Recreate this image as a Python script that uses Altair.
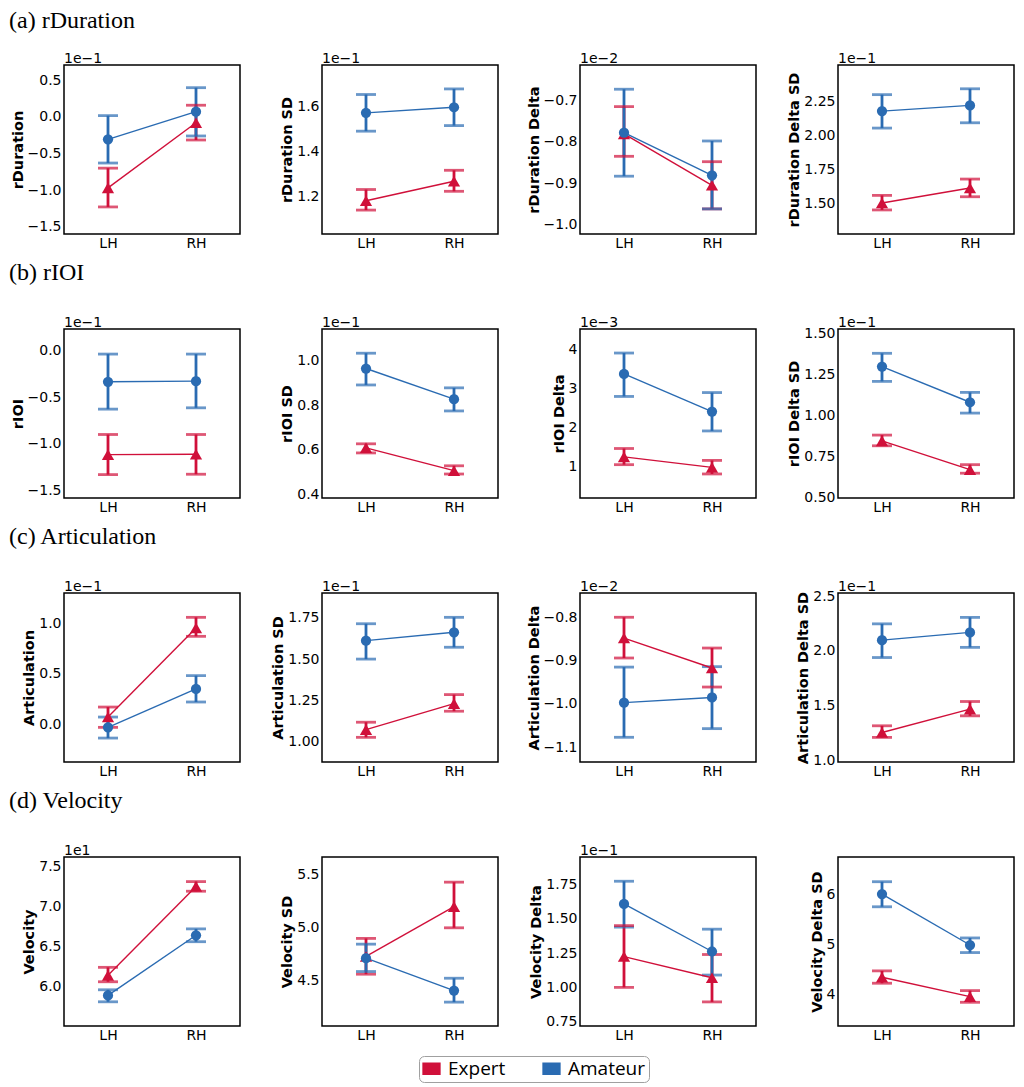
import altair as alt
import pandas as pd

HANDS = ["LH", "RH"]
GROUPS = ["Expert", "Amateur"]
RED = "#d0103a"
BLUE = "#2a6bb2"

ROW_TITLES = ["(a) rDuration", "(b) rIOI", "(c) Articulation", "(d) Velocity"]

Y_TITLES = [
    "rDuration", "rDuration SD", "rDuration Delta", "rDuration Delta SD",
    "rIOI", "rIOI SD", "rIOI Delta", "rIOI Delta SD",
    "Articulation", "Articulation SD", "Articulation Delta", "Articulation Delta SD",
    "Velocity", "Velocity SD", "Velocity Delta", "Velocity Delta SD",
]
OFFSETS = ["1e\u22121", "1e\u22121", "1e\u22122", "1e\u22121",
           "1e\u22121", "1e\u22121", "1e\u22123", "1e\u22121",
           "1e\u22121", "1e\u22121", "1e\u22122", "1e\u22121",
           "1e1", "", "1e\u22121", ""]

# (mean, low, high) at LH and RH, in the units shown on each axis
rduration_expert = [(-0.97, -1.23, -0.70), (-0.08, -0.315, 0.16)]
rduration_amateur = [(-0.306, -0.63, 0.018), (0.072, -0.26, 0.40)]
rduration_sd_expert = [(1.18, 1.138, 1.23), (1.267, 1.222, 1.316)]
rduration_sd_amateur = [(1.573, 1.491, 1.655), (1.598, 1.516, 1.68)]
rduration_delta_expert = [(-0.781, -0.835, -0.715), (-0.905, -0.962, -0.848)]
rduration_delta_amateur = [(-0.778, -0.883, -0.673), (-0.881, -0.962, -0.798)]
rduration_delta_sd_expert = [(1.50, 1.449, 1.556), (1.61, 1.546, 1.676)]
rduration_delta_sd_amateur = [(2.176, 2.051, 2.297), (2.218, 2.09, 2.34)]

rioi_expert = [(-1.113, -1.326, -0.899), (-1.109, -1.322, -0.899)]
rioi_amateur = [(-0.338, -0.629, -0.043), (-0.331, -0.615, -0.043)]
rioi_sd_expert = [(0.608, 0.585, 0.626), (0.505, 0.49, 0.527)]
rioi_sd_amateur = [(0.965, 0.891, 1.034), (0.827, 0.774, 0.878)]
rioi_delta_expert = [(1.24, 1.04, 1.457), (0.97, 0.80, 1.15)]
rioi_delta_amateur = [(3.38, 2.80, 3.92), (2.41, 1.91, 2.90)]
rioi_delta_sd_expert = [(0.845, 0.815, 0.88), (0.67, 0.648, 0.70)]
rioi_delta_sd_amateur = [(1.297, 1.207, 1.378), (1.08, 1.014, 1.14)]

artic_expert = [(0.069, -0.033, 0.168), (0.95, 0.868, 1.056)]
artic_amateur = [(-0.033, -0.139, 0.069), (0.347, 0.218, 0.479)]
artic_sd_expert = [(1.071, 1.024, 1.116), (1.229, 1.183, 1.284)]
artic_sd_amateur = [(1.612, 1.50, 1.715), (1.663, 1.572, 1.754)]
artic_delta_expert = [(-0.848, -0.894, -0.80), (-0.917, -0.961, -0.871)]
artic_delta_amateur = [(-0.997, -1.077, -0.915), (-0.985, -1.057, -0.914)]
artic_delta_sd_expert = [(1.255, 1.21, 1.316), (1.468, 1.407, 1.538)]
artic_delta_sd_amateur = [(2.099, 1.94, 2.248), (2.17, 2.033, 2.307)]

velocity_expert = [(6.14, 6.06, 6.24), (7.25, 7.19, 7.31)]
velocity_amateur = [(5.89, 5.81, 5.96), (6.64, 6.56, 6.72)]
velocity_sd_expert = [(4.73, 4.563, 4.90), (5.20, 5.0, 5.43)]
velocity_sd_amateur = [(4.714, 4.588, 4.846), (4.409, 4.30, 4.525)]
velocity_delta_expert = [(1.225, 1.0, 1.451), (1.07, 0.894, 1.24)]
velocity_delta_amateur = [(1.609, 1.44, 1.775), (1.262, 1.09, 1.425)]
velocity_delta_sd_expert = [(4.35, 4.232, 4.477), (3.967, 3.854, 4.086)]
velocity_delta_sd_amateur = [(6.0, 5.748, 6.245), (4.99, 4.84, 5.13)]

EXPERT = [rduration_expert, rduration_sd_expert, rduration_delta_expert, rduration_delta_sd_expert,
          rioi_expert, rioi_sd_expert, rioi_delta_expert, rioi_delta_sd_expert,
          artic_expert, artic_sd_expert, artic_delta_expert, artic_delta_sd_expert,
          velocity_expert, velocity_sd_expert, velocity_delta_expert, velocity_delta_sd_expert]
AMATEUR = [rduration_amateur, rduration_sd_amateur, rduration_delta_amateur, rduration_delta_sd_amateur,
           rioi_amateur, rioi_sd_amateur, rioi_delta_amateur, rioi_delta_sd_amateur,
           artic_amateur, artic_sd_amateur, artic_delta_amateur, artic_delta_sd_amateur,
           velocity_amateur, velocity_sd_amateur, velocity_delta_amateur, velocity_delta_sd_amateur]

Y_DOMAINS = [
    [-1.6, 0.71], [1.031, 1.787], [-1.0226, -0.6145], [1.272, 2.515],
    [-1.575, 0.224], [0.382, 1.143], [0.18, 4.54], [0.497, 1.526],
    [-0.376, 1.297], [0.874, 1.902], [-1.134, -0.744], [0.985, 2.53],
    [5.508, 7.617], [4.075, 5.667], [0.718, 1.952], [3.384, 6.735],
]
Y_TICKS = [
    [-1.5, -1.0, -0.5, 0.0, 0.5], [1.2, 1.4, 1.6], [-1.0, -0.9, -0.8, -0.7], [1.5, 1.75, 2.0, 2.25],
    [-1.5, -1.0, -0.5, 0.0], [0.4, 0.6, 0.8, 1.0], [1, 2, 3, 4], [0.5, 0.75, 1.0, 1.25, 1.5],
    [0.0, 0.5, 1.0], [1.0, 1.25, 1.5, 1.75], [-1.1, -1.0, -0.9, -0.8], [1.0, 1.5, 2.0, 2.5],
    [6.0, 6.5, 7.0, 7.5], [4.5, 5.0, 5.5], [0.75, 1.0, 1.25, 1.5, 1.75], [4, 5, 6],
]
Y_FORMATS = [".1f", ".1f", ".1f", ".2f",
             ".1f", ".1f", "d", ".2f",
             ".1f", ".2f", ".1f", ".1f",
             ".1f", ".1f", ".2f", "d"]

PANEL_W = 176
PANEL_H = 169

RECT_PATH = "M-1,-0.65H1V0.65H-1Z"

color_scale = alt.Scale(domain=GROUPS, range=[RED, BLUE])

legend = alt.Legend(
    title=None, orient="none", legendX=355, legendY=991, direction="horizontal", columns=2,
    symbolType=RECT_PATH, symbolSize=289, symbolStrokeColor="#222222", symbolStrokeWidth=1.3,
    symbolOpacity=1, labelFont="Open Sans", labelFontSize=19, labelColor="black",
    labelOffset=7, columnPadding=34, padding=3, strokeColor="#a0a0a0", cornerRadius=5,
    fillColor="white",
)


def make_panel(i):
    rows = []
    for g, vals in (("Expert", EXPERT[i]), ("Amateur", AMATEUR[i])):
        for h, (m, lo, hi) in zip(HANDS, vals):
            rows.append({"group": g, "hand": h, "mean": m, "lo": lo, "hi": hi})
    df = pd.DataFrame(rows)
    base = alt.Chart(df)

    x = alt.X("hand:N", scale=alt.Scale(type="point", padding=0.5, domain=HANDS),
              axis=alt.Axis(title=None, labelAngle=0))
    yscale = alt.Scale(domain=Y_DOMAINS[i], nice=False, zero=False)
    yaxis = alt.Axis(title=Y_TITLES[i], values=Y_TICKS[i], format=Y_FORMATS[i])
    col = alt.Color("group:N", scale=color_scale, legend=legend)

    def Y(field):
        return alt.Y(field, type="quantitative", scale=yscale, axis=yaxis, title=Y_TITLES[i])

    rule = base.mark_rule(strokeWidth=2.8).encode(x=x, y=Y("lo"), y2="hi:Q", color=col)
    cap_lo = base.mark_tick(size=20, thickness=2.8).encode(x=x, y=Y("lo"), color=col)
    cap_hi = base.mark_tick(size=20, thickness=2.8).encode(x=x, y=Y("hi"), color=col)
    line = base.mark_line(strokeWidth=1.4).encode(x=x, y=Y("mean"), color=col, detail="group:N")
    tri = base.transform_filter(alt.datum.group == "Expert").mark_point(
        filled=True, opacity=1, size=150, shape="triangle-up"
    ).encode(x=x, y=Y("mean"), color=col)
    circ = base.transform_filter(alt.datum.group == "Amateur").mark_point(
        filled=True, opacity=1, size=105, shape="circle"
    ).encode(x=x, y=Y("mean"), color=col)
    layers = [rule, cap_lo, cap_hi, line, tri, circ]

    if OFFSETS[i]:
        off = alt.Chart(pd.DataFrame({"t": [OFFSETS[i]]})).mark_text(
            align="left", baseline="bottom", font="DejaVu Sans", fontSize=14, color="black", dy=1
        ).encode(text="t:N", x=alt.value(0), y=alt.value(0))
        layers.append(off)

    if i % 4 == 0:
        ty = -56 if i == 0 else -68
        ttl = alt.Chart(pd.DataFrame({"t": [ROW_TITLES[i // 4]]})).mark_text(
            align="left", baseline="top", font="Liberation Serif", fontSize=24, color="black"
        ).encode(text="t:N", x=alt.value(-55), y=alt.value(ty))
        layers.append(ttl)

    return alt.layer(*layers).properties(width=PANEL_W, height=PANEL_H)


panels = [make_panel(i) for i in range(16)]

chart = alt.concat(
    *panels, columns=4, spacing={"row": 95, "column": 82}, bounds="flush"
).properties(
    padding=0
).configure_view(
    stroke="black", strokeWidth=1.5
).configure_axis(
    grid=False, domain=False, ticks=False,
    labelFont="DejaVu Sans", labelFontSize=14, labelColor="black",
    titleFont="DejaVu Sans", titleFontSize=14.5, titleFontWeight="bold", titleColor="black",
    labelPadding=3, titlePadding=2,
).configure_axisX(
    labelPadding=2
)

chart.save("out.html", embed_options={"renderer": "svg", "actions": False})
